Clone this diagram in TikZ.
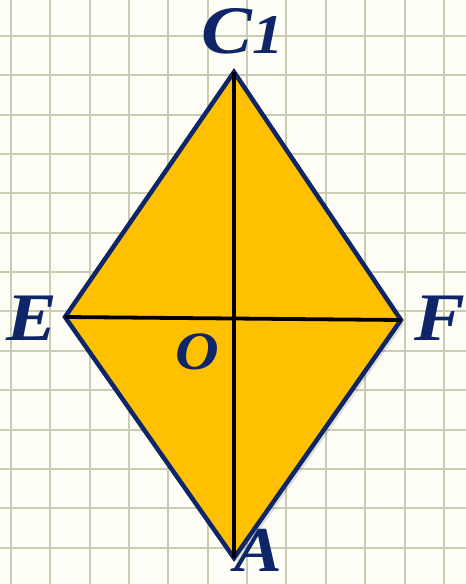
\documentclass[tikz,border=0pt]{standalone}
\usepackage{fontspec}
\setmainfont{Liberation Serif}
\definecolor{paper}{RGB}{254,254,246}
\definecolor{gridc}{RGB}{202,205,178}
\definecolor{navy}{RGB}{14,38,104}
\definecolor{gold}{RGB}{255,192,0}
\begin{document}
\begin{tikzpicture}[x=1pt,y=-1pt,
  lbl/.style={text=navy,inner sep=0pt,xscale=1.12,font=\fontsize{68}{70}\selectfont\bfseries\itshape},
  gridline/.style={draw=gridc,line width=2pt},
  side/.style={draw=navy,line width=4.5pt,line join=miter},
  diag/.style={draw=black,line width=3.8pt}]
\fill[paper] (0,0) rectangle (466,584);
\useasboundingbox (0,0) rectangle (466,584);
% grid
\foreach \i in {0,...,11} {\draw[gridline] ({11+39.35*\i},0) -- ({11+39.35*\i},584);}
\foreach \j in {0,...,14} {\draw[gridline] (0,{36+39.35*\j}) -- (466,{36+39.35*\j});}
% vertices
\coordinate (C) at (234,72);
\coordinate (E) at (65,317);
\coordinate (F) at (401,320);
\coordinate (A) at (234,558);
% shadow
\fill[black,opacity=0.12] ([shift={(3,4)}]C) -- ([shift={(3,4)}]F) -- ([shift={(3,4)}]A) -- ([shift={(3,4)}]E) -- cycle;
% rhombus
\path[side,fill=gold] (C) -- (F) -- (A) -- (E) -- cycle;
\draw[diag] (E) -- (F);
\draw[diag] (C) -- (A);
% labels
\node[lbl] (lC) at (243,31) {C\fontsize{56}{58}\selectfont 1};
\node[lbl] (lE) at (32,318) {E};
\node[lbl] (lF) at (440,318) {F};
\node[lbl,font=\fontsize{54}{56}\selectfont\bfseries\itshape] (lO) at (197,352) {O};
\node[lbl,font=\fontsize{64}{66}\selectfont\bfseries\itshape] (lA) at (258,550) {A};
\end{tikzpicture}
\end{document}
